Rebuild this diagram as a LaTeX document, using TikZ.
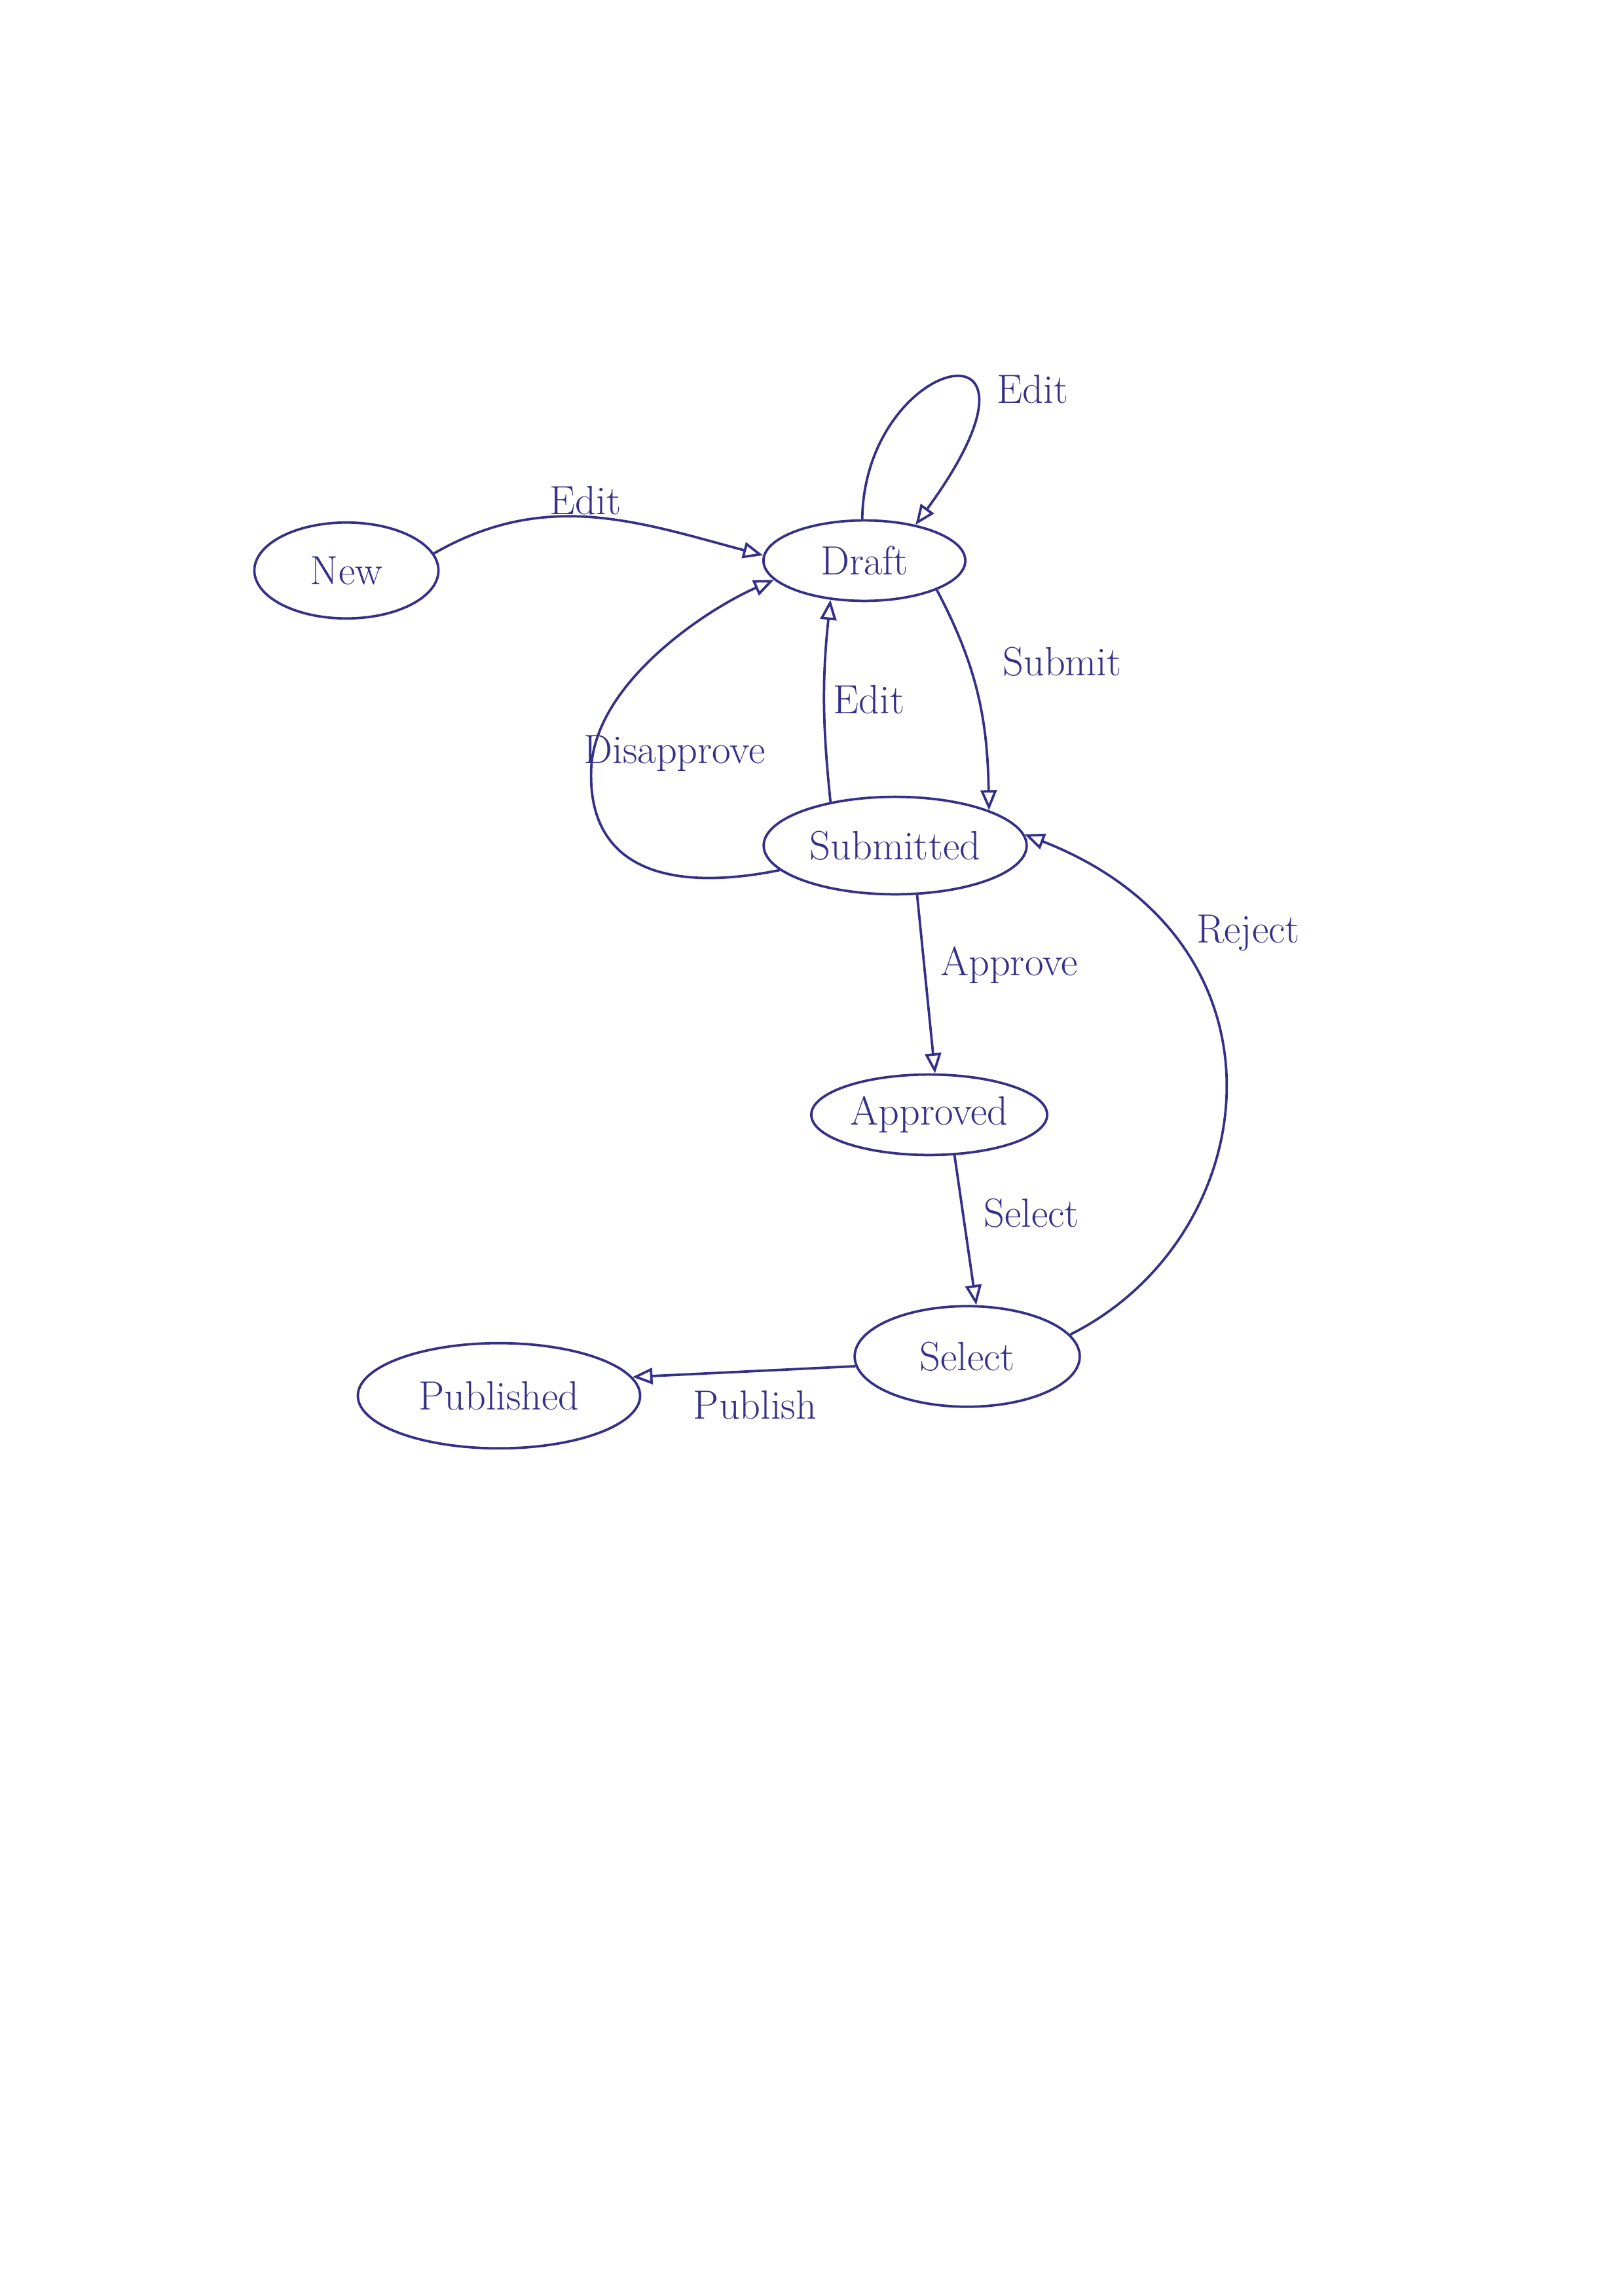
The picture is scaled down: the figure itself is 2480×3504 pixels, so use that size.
\documentclass[tikz,border=0pt]{standalone}
\usetikzlibrary{shapes.geometric,arrows.meta}
\definecolor{ink}{RGB}{52,48,138}
\begin{document}
\begin{tikzpicture}[x=0.084677mm,y=-0.084677mm,
  ink/.style={draw=ink,line width=0.9pt},
  state/.style={ink,ellipse,inner sep=0pt,text=ink,font=\fontsize{15}{18}\selectfont},
  lbl/.style={text=ink,font=\fontsize{15}{18}\selectfont,inner sep=1pt},
  tr/.style={ink,-{Triangle[open,length=2.6mm,width=2.1mm]}}]
\path[use as bounding box,fill=white] (0,0) rectangle (2480,3504);
% states
\node[state,minimum width=23.8mm,minimum height=12.4mm] (new) at (529,871) {New};
\node[state,minimum width=26.1mm,minimum height=10.4mm] (draft) at (1320,856) {Draft};
\node[state,minimum width=34mm,minimum height=12.6mm] (submitted) at (1367,1291) {Submitted};
\node[state,minimum width=30.5mm,minimum height=10.4mm] (approved) at (1419,1702) {Approved};
\node[state,minimum width=29.1mm,minimum height=13mm] (select) at (1477,2071) {Select};
\node[state,minimum width=36.5mm,minimum height=13.6mm] (published) at (762,2131) {Published};
% transitions
\draw[tr] (new.11) to[out=30,in=165] (draft.177);
\draw[tr] (draft.93) .. controls (1320,540) and (1640,470) .. (draft.35);
\draw[tr] (draft.-22) to[out=-62,in=91] (submitted.north east);
\draw[tr] (submitted.146) to[out=96,in=-96] (draft.-131);
\draw[tr] (submitted.-168) .. controls (1010,1365) and (895,1320) .. (903,1170)
   .. controls (912,1040) and (1080,930) .. (draft.-168);
\draw[tr] (submitted.-66) -- (approved.82);
\draw[tr] (approved.-58) -- (select.80);
\draw[tr] (select.12) .. controls (1930,1890) and (1990,1440) .. (submitted.5);
\draw[tr] (select.-175) -- (published.8);
% labels
\node[lbl] (l1) at (894,764) {Edit};
\node[lbl] (l2) at (1577,594) {Edit};
\node[lbl] (l3) at (1622,1010) {Submit};
\node[lbl] (l4) at (1327,1068) {Edit};
\node[lbl] (l5) at (1030,1150) {Disapprove};
\node[lbl] (l6) at (1541,1474) {Approve};
\node[lbl] (l7) at (1575,1852) {Select};
\node[lbl] (l8) at (1906,1425) {Reject};
\node[lbl] (l9) at (1153,2145) {Publish};
\end{tikzpicture}
\end{document}
